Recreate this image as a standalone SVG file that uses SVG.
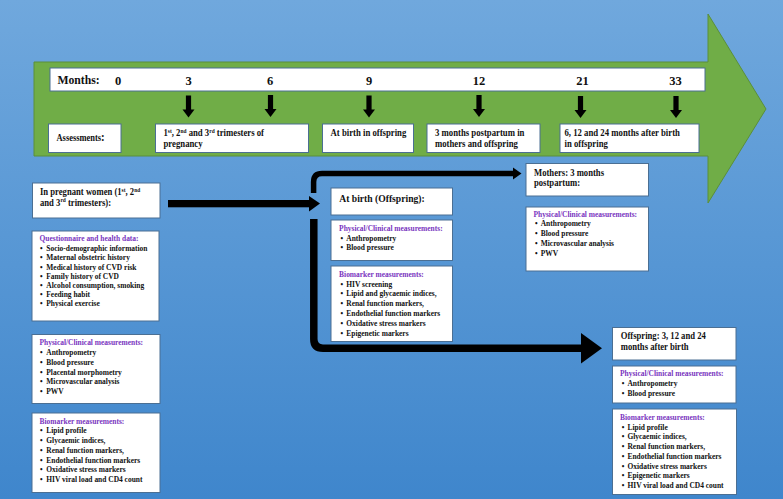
<svg xmlns="http://www.w3.org/2000/svg" width="783" height="499" viewBox="0 0 783 499">
<defs>
<linearGradient id="bg" x1="0" y1="0" x2="0" y2="1">
<stop offset="0" stop-color="#70a8dd"/>
<stop offset="1" stop-color="#3f86cc"/>
</linearGradient>
<g id="darr"><rect x="-2.6" y="0" width="5.2" height="14.5"/><polygon points="-6,14 6,14 0,22"/></g>
</defs>
<style>
.box{fill:#fff;stroke:#4b6f93;stroke-width:1}
.t{font-family:"Liberation Serif","Times New Roman",serif;font-weight:bold;fill:#111}
.m{font-size:12.5px}
.a{font-size:9.7px}
.ti{font-size:9.6px}
.h{font-size:8.3px;fill:#7a35c0}
.b{font-size:8.3px}
.sup{font-size:6px}
.con{fill:none;stroke:#000}
</style>
<rect x="0" y="0" width="783" height="499" fill="url(#bg)"/>
<g id="timeline">
<polygon points="34,62 708,62 708,14 766,109 708,203 708,156 34,156" fill="#70ad47" stroke="#5b8f3a" stroke-width="1"/>
<rect class="box" x="50" y="68" width="655" height="23"/>
<text class="t" font-size="13" x="57.5" y="84.5" transform="matrix(0.9 0 0 1 5.75 0)">Months:</text>
<g class="t m" text-anchor="middle">
<text x="118" y="84.5">0</text><text x="188.5" y="84.5">3</text><text x="270" y="84.5">6</text><text x="369" y="84.5">9</text><text x="479" y="84.5">12</text><text x="582.5" y="84.5">21</text><text x="675.5" y="84.5">33</text>
</g>
<g fill="#000">
<use href="#darr" x="188.5" y="95.5"/><use href="#darr" x="270.5" y="95"/><use href="#darr" x="369" y="95.5"/><use href="#darr" x="479" y="95"/><use href="#darr" x="580.5" y="96"/><use href="#darr" x="676" y="96"/>
</g>
</g>
<g id="assess-label">
<rect class="box" x="48.5" y="124" width="72.5" height="28.5"/>
<text class="t" x="56.5" y="141" transform="matrix(0.9 0 0 1 5.65 0)"><tspan font-size="9.4">Assessments</tspan><tspan font-size="12">:</tspan></text>
</g>
<g id="assess-trimesters">
<rect class="box" x="155.5" y="124" width="153" height="28.5"/>
<g transform="matrix(0.9 0 0 1 16.35 0)">
<text class="t a" x="163.5" y="136.5">1<tspan class="sup" dy="-3.5">st</tspan><tspan dy="3.5">, 2</tspan><tspan class="sup" dy="-3.5">nd</tspan><tspan dy="3.5"> and 3</tspan><tspan class="sup" dy="-3.5">rd</tspan><tspan dy="3.5"> trimesters of</tspan></text>
<text class="t a" x="163.5" y="147.5">pregnancy</text>
</g>
</g>
<g id="assess-birth">
<rect class="box" x="322.5" y="124" width="91" height="28.5"/>
<text class="t a" x="330.5" y="136" transform="matrix(0.9 0 0 1 33.05 0)">At birth in offspring</text>
</g>
<g id="assess-3m">
<rect class="box" x="427" y="124" width="113" height="28.5"/>
<g transform="matrix(0.9 0 0 1 43.5 0)">
<text class="t a" x="435" y="136.5">3 months postpartum in</text>
<text class="t a" x="435" y="147.5">mothers and offspring</text>
</g>
</g>
<g id="assess-later">
<rect class="box" x="560" y="124" width="139" height="28.5"/>
<g transform="matrix(0.9 0 0 1 56.45 0)">
<text class="t a" x="564.5" y="136.5">6, 12 and 24 months after birth</text>
<text class="t a" x="564.5" y="147.5">in offspring</text>
</g>
</g>
<g id="connectors">
<rect x="168" y="200" width="143" height="7.3" fill="#000"/>
<polygon points="309,196 320,203.6 309,211.5" fill="#000"/>
<path class="con" d="M313.6,193 V182 Q313.6,173.5 322,173.5 H514" stroke-width="5.5"/>
<polygon points="513,167.5 521.5,173.5 513,179.5" fill="#000"/>
<path class="con" d="M313.8,219 V339 Q313.8,348.2 323,348.2 H583" stroke-width="7.5"/>
<polygon points="581,333 602,348.3 581,363.5" fill="#000"/>
</g>
<g id="pregnant-title">
<rect class="box" x="32.5" y="183" width="127.5" height="35"/>
<g transform="matrix(0.9 0 0 1 4 0)">
<text class="t ti" x="40" y="195.3">In pregnant women (1<tspan class="sup" dy="-3.5">st</tspan><tspan dy="3.5">, 2</tspan><tspan class="sup" dy="-3.5">nd</tspan></text>
<text class="t ti" x="40" y="205.8">and 3<tspan class="sup" dy="-3.5">rd</tspan><tspan dy="3.5"> trimesters):</tspan></text>
</g>
</g>
<g id="pregnant-questionnaire">
<rect class="box" x="32" y="231" width="127" height="90"/>
<g transform="matrix(0.9 0 0 1 4 0)">
<text class="t h" x="39.5" y="241.5">Questionnaire and health data:</text>
<g class="t b">
<text x="40" y="251.3">•</text><text x="47" y="251.3">Socio-demographic information</text>
<text x="40" y="260.5">•</text><text x="47" y="260.5">Maternal obstetric history</text>
<text x="40" y="269.7">•</text><text x="47" y="269.7">Medical history of CVD risk</text>
<text x="40" y="278.9">•</text><text x="47" y="278.9">Family history of CVD</text>
<text x="40" y="288.1">•</text><text x="47" y="288.1">Alcohol consumption, smoking</text>
<text x="40" y="297.3">•</text><text x="47" y="297.3">Feeding habit</text>
<text x="40" y="306.5">•</text><text x="47" y="306.5">Physical exercise</text>
</g>
</g>
</g>
<g id="pregnant-physical">
<rect class="box" x="32" y="334.5" width="128" height="69"/>
<g transform="matrix(0.9 0 0 1 4 0)">
<text class="t h" x="39.5" y="345.3">Physical/Clinical measurements:</text>
<g class="t b">
<text x="40" y="355.3">•</text><text x="47" y="355.3">Anthropometry</text>
<text x="40" y="365">•</text><text x="47" y="365">Blood pressure</text>
<text x="40" y="374.7">•</text><text x="47" y="374.7">Placental morphometry</text>
<text x="40" y="384.4">•</text><text x="47" y="384.4">Microvascular analysis</text>
<text x="40" y="394">•</text><text x="47" y="394">PWV</text>
</g>
</g>
</g>
<g id="pregnant-biomarker">
<rect class="box" x="32" y="413" width="128" height="79.5"/>
<g transform="matrix(0.9 0 0 1 4 0)">
<text class="t h" x="39.5" y="423.7">Biomarker measurements:</text>
<g class="t b">
<text x="40" y="433.2">•</text><text x="47" y="433.2">Lipid profile</text>
<text x="40" y="443">•</text><text x="47" y="443">Glycaemic indices,</text>
<text x="40" y="452.7">•</text><text x="47" y="452.7">Renal function markers,</text>
<text x="40" y="462.6">•</text><text x="47" y="462.6">Endothelial function markers</text>
<text x="40" y="472.4">•</text><text x="47" y="472.4">Oxidative stress markers</text>
<text x="40" y="482.5">•</text><text x="47" y="482.5">HIV viral load and CD4 count</text>
</g>
</g>
</g>
<g id="birth-title">
<rect class="box" x="331" y="188" width="121.5" height="27"/>
<text class="t" font-size="10.7" x="339.3" y="202" transform="matrix(0.9 0 0 1 33.93 0)">At birth (Offspring):</text>
</g>
<g id="birth-physical">
<rect class="box" x="331" y="220" width="121.5" height="40.5"/>
<g transform="matrix(0.9 0 0 1 34 0)">
<text class="t h" x="339" y="231">Physical/Clinical measurements:</text>
<g class="t b">
<text x="340.5" y="241">•</text><text x="347" y="241">Anthropometry</text>
<text x="340.5" y="250.5">•</text><text x="347" y="250.5">Blood pressure</text>
</g>
</g>
</g>
<g id="birth-biomarker">
<rect class="box" x="331" y="266" width="121.5" height="75.5"/>
<g transform="matrix(0.9 0 0 1 34 0)">
<text class="t h" x="339" y="276.7">Biomarker measurements:</text>
<g class="t b">
<text x="340.5" y="286.7">•</text><text x="347" y="286.7">HIV screening</text>
<text x="340.5" y="296.5">•</text><text x="347" y="296.5">Lipid and glycaemic indices,</text>
<text x="340.5" y="306.3">•</text><text x="347" y="306.3">Renal function markers,</text>
<text x="340.5" y="316.2">•</text><text x="347" y="316.2">Endothelial function markers</text>
<text x="340.5" y="326">•</text><text x="347" y="326">Oxidative stress markers</text>
<text x="340.5" y="336">•</text><text x="347" y="336">Epigenetic markers</text>
</g>
</g>
</g>
<g id="mothers-title">
<rect class="box" x="526" y="163.5" width="122.5" height="32.5"/>
<g transform="matrix(0.9 0 0 1 53.4 0)">
<text class="t ti" x="534" y="175.8">Mothers: 3 months</text>
<text class="t ti" x="534" y="186.3">postpartum:</text>
</g>
</g>
<g id="mothers-physical">
<rect class="box" x="526" y="207" width="122.5" height="64"/>
<g transform="matrix(0.9 0 0 1 53.4 0)">
<text class="t h" x="533.5" y="217">Physical/Clinical measurements:</text>
<g class="t b">
<text x="535" y="226.5">•</text><text x="541.5" y="226.5">Anthropometry</text>
<text x="535" y="236.4">•</text><text x="541.5" y="236.4">Blood pressure</text>
<text x="535" y="246.3">•</text><text x="541.5" y="246.3">Microvascular analysis</text>
<text x="535" y="256.2">•</text><text x="541.5" y="256.2">PWV</text>
</g>
</g>
</g>
<g id="offspring-title">
<rect class="box" x="612.5" y="327.5" width="123.5" height="32.5"/>
<g transform="matrix(0.9 0 0 1 62.07 0)">
<text class="t ti" x="620.7" y="339">Offspring: 3, 12 and 24</text>
<text class="t ti" x="620.7" y="350">months after birth</text>
</g>
</g>
<g id="offspring-physical">
<rect class="box" x="612.5" y="366" width="123.5" height="37"/>
<g transform="matrix(0.9 0 0 1 62 0)">
<text class="t h" x="620" y="376.3">Physical/Clinical measurements:</text>
<g class="t b">
<text x="622" y="386">•</text><text x="628.3" y="386">Anthropometry</text>
<text x="622" y="396">•</text><text x="628.3" y="396">Blood pressure</text>
</g>
</g>
</g>
<g id="offspring-biomarker">
<rect class="box" x="612.5" y="409" width="124" height="85.5"/>
<g transform="matrix(0.9 0 0 1 62 0)">
<text class="t h" x="620" y="420">Biomarker measurements:</text>
<g class="t b">
<text x="622" y="429.7">•</text><text x="628.3" y="429.7">Lipid profile</text>
<text x="622" y="439.4">•</text><text x="628.3" y="439.4">Glycaemic indices,</text>
<text x="622" y="449.1">•</text><text x="628.3" y="449.1">Renal function markers,</text>
<text x="622" y="458.9">•</text><text x="628.3" y="458.9">Endothelial function markers</text>
<text x="622" y="468.6">•</text><text x="628.3" y="468.6">Oxidative stress markers</text>
<text x="622" y="478.3">•</text><text x="628.3" y="478.3">Epigenetic markers</text>
<text x="622" y="488">•</text><text x="628.3" y="488">HIV viral load and CD4 count</text>
</g>
</g>
</g>
</svg>
